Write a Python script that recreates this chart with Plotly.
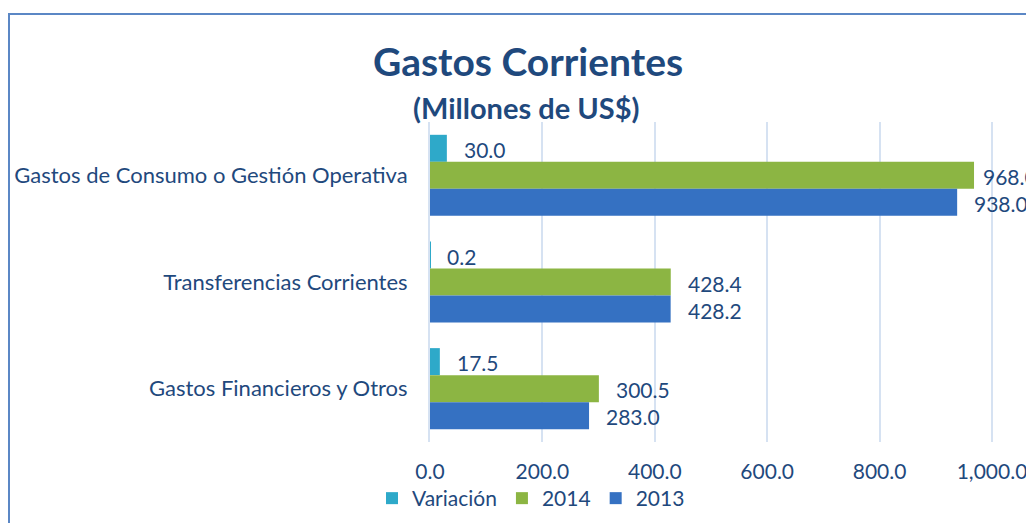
import plotly.graph_objects as go

categories = ["Gastos de Consumo o Gestión Operativa", "Transferencias Corrientes", "Gastos Financieros y Otros"]
series_names = ["Variación", "2014", "2013"]
variacion = [30.0, 0.2, 17.5]
v2014 = [968.0, 428.4, 300.5]
v2013 = [938.0, 428.2, 283.0]
x_ticks = [0, 200, 400, 600, 800, 1000]
x_tick_labels = ["0.0", "200.0", "400.0", "600.0", "800.0", "1,000.0"]

colors = ["#2EA9C9", "#8CB543", "#3571C2"]
text_color = "#1F497D"
FONT = "Lato"

OFF = 8  # page body margin
W, H = 1034 - 2 * OFF, 531 - 2 * OFF
ML, MR = 430 - OFF, 0
MT = 122 - OFF
MB = H - (442 - OFF)
PW, PH = W - ML - MR, H - MT - MB
XMAX = PW * 200 / 112.4


def px_x(p):
    return (p - OFF - ML) / PW


def px_y(p):
    return (H - MB - (p - OFF)) / PH


fig = go.Figure()
all_series = [variacion, v2014, v2013]
for name, vals, col in zip(series_names, all_series, colors):
    fig.add_trace(go.Bar(
        y=categories, x=vals, name=name, orientation="h",
        marker=dict(color=col, line=dict(width=0)),
        hoverinfo="x+name",
    ))

# data labels
shifts = [27, 0, -27]
for vals, ys in zip(all_series, shifts):
    for cat, v in zip(categories, vals):
        fig.add_annotation(
            x=v, y=cat, xref="x", yref="y", text=f"{v:,.1f}",
            showarrow=False, xanchor="left", yanchor="middle",
            xshift=15 if v < 950 else 7, yshift=ys - 1,
            font=dict(family=FONT, size=21, color=text_color),
        )

fig.add_annotation(
    x=px_x(526), y=px_y(107), xref="paper", yref="paper",
    text="<b>(Millones de US$)</b>", showarrow=False,
    xanchor="center", yanchor="middle",
    font=dict(family=FONT, size=29, color=text_color),
)

fig.add_shape(
    type="rect", xref="paper", yref="paper",
    x0=px_x(9), y0=px_y(14), x1=px_x(1045), y1=px_y(545),
    line=dict(color="#5B87C5", width=2), layer="above",
)

fig.update_layout(
    width=W, height=H,
    margin=dict(l=ML, r=MR, t=MT, b=MB, pad=0),
    paper_bgcolor="white", plot_bgcolor="white",
    barmode="group", bargap=0.24, bargroupgap=0,
    title=dict(
        text="<b>Gastos Corrientes</b>", x=(528 - OFF) / W, xref="container", xanchor="center",
        y=1 - (62 - OFF) / H, yref="container", yanchor="middle",
        font=dict(family=FONT, size=39, color=text_color),
    ),
    font=dict(family=FONT, color=text_color),
    showlegend=True,
    legend=dict(
        orientation="h", x=px_x(372), y=px_y(478), xanchor="left", yanchor="top",
        font=dict(family=FONT, size=21, color=text_color),
        itemwidth=30, traceorder="normal",
        bgcolor="rgba(0,0,0,0)",
    ),
    xaxis=dict(
        range=[0, XMAX], tickvals=x_ticks, ticktext=x_tick_labels,
        showgrid=True, gridcolor="#D6E2F2", gridwidth=2,
        zeroline=False, showline=False, ticks="",
        ticklabelstandoff=15, ticklabeloverflow="allow",
        tickfont=dict(family=FONT, size=21, color=text_color),
    ),
    yaxis=dict(
        autorange="reversed", showgrid=False, zeroline=False,
        showline=True, linecolor="#D6E2F2", linewidth=2,
        ticks="", ticklabelstandoff=16,
        tickfont=dict(family=FONT, size=22, color=text_color),
    ),
)

fig.write_html("out.html")
